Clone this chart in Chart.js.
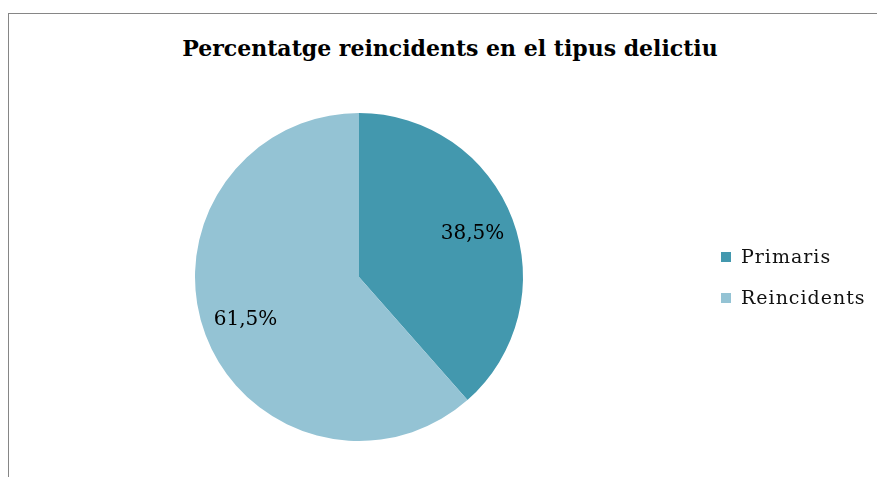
<!DOCTYPE html>
<html lang="ca">
<head>
    <meta charset="UTF-8">
    <title>Percentatge reincidents en el tipus delictiu</title>
    <style>
        body {
            margin: 0;
            background: #fff;
            width: 877px;
            height: 477px;
            overflow: hidden;
            position: relative;
            font-family: 'DejaVu Serif', 'Liberation Serif', serif;
        }
        .frame {
            position: absolute;
            left: 8px;
            top: 13px;
            width: 900px;
            height: 500px;
            border-top: 1px solid #868686;
            border-left: 1px solid #868686;
        }
        #title {
            position: absolute;
            left: 0;
            width: 900px;
            top: 35px;
            text-align: center;
            font-weight: bold;
            font-size: 22px;
            color: #000;
        }
        .chart-box {
            position: absolute;
            left: 0;
            top: 0;
            width: 877px;
            height: 477px;
        }
        #legend {
            position: absolute;
            left: 721px;
            top: 244px;
            font-size: 19px;
            color: #111;
        }
        #legend div {
            height: 41px;
            line-height: 24px;
            white-space: nowrap;
            letter-spacing: 1px;
        }
        #legend span.box {
            display: inline-block;
            width: 10px;
            height: 10px;
            margin-right: 10px;
            vertical-align: 1px;
        }
    </style>
    <script src="https://cdn.jsdelivr.net/npm/chart.js"></script>
</head>
<body>
    <div class="frame"></div>
    <div id="title">Percentatge reincidents en el tipus delictiu</div>
    <div class="chart-box">
        <canvas id="pieChart" width="877" height="477"></canvas>
    </div>
    <div id="legend"></div>

    <script>
        const categories = ['Primaris', 'Reincidents'];
        const percentages = [38.5, 61.5];
        const sliceColors = ['#4398AE', '#94C3D4'];

        function formatPct(v) {
            return v.toFixed(1).replace('.', ',') + '%';
        }

        // labels inside the slices
        const sliceLabels = {
            id: 'sliceLabels',
            afterDatasetsDraw(chart) {
                const ctx = chart.ctx;
                const meta = chart.getDatasetMeta(0);
                ctx.save();
                ctx.font = '20px "DejaVu Serif", serif';
                ctx.fillStyle = '#000';
                ctx.textAlign = 'center';
                ctx.textBaseline = 'middle';
                meta.data.forEach(function(arc, i) {
                    const p = arc.getProps(['x', 'y', 'startAngle', 'endAngle', 'outerRadius'], true);
                    const mid = (p.startAngle + p.endAngle) / 2;
                    const r = p.outerRadius * 0.74;
                    ctx.fillText(formatPct(chart.data.datasets[0].data[i]),
                        p.x + Math.cos(mid) * r, p.y + Math.sin(mid) * r);
                });
                ctx.restore();
            }
        };

        const ctx = document.getElementById('pieChart').getContext('2d');
        const pieChart = new Chart(ctx, {
            type: 'pie',
            data: {
                labels: categories,
                datasets: [{
                    data: percentages,
                    backgroundColor: sliceColors,
                    borderWidth: 0
                }]
            },
            options: {
                responsive: false,
                animation: false,
                layout: {
                    padding: { left: 194, right: 353, top: 113, bottom: 36 }
                },
                plugins: {
                    legend: { display: false },
                    title: { display: false },
                    tooltip: { enabled: false }
                }
            },
            plugins: [sliceLabels]
        });

        const legend = document.getElementById('legend');
        categories.forEach(function(name, i) {
            const row = document.createElement('div');
            row.innerHTML = '<span class="box" style="background:' + sliceColors[i] + '"></span>' + name;
            legend.appendChild(row);
        });
    </script>
</body>
</html>
